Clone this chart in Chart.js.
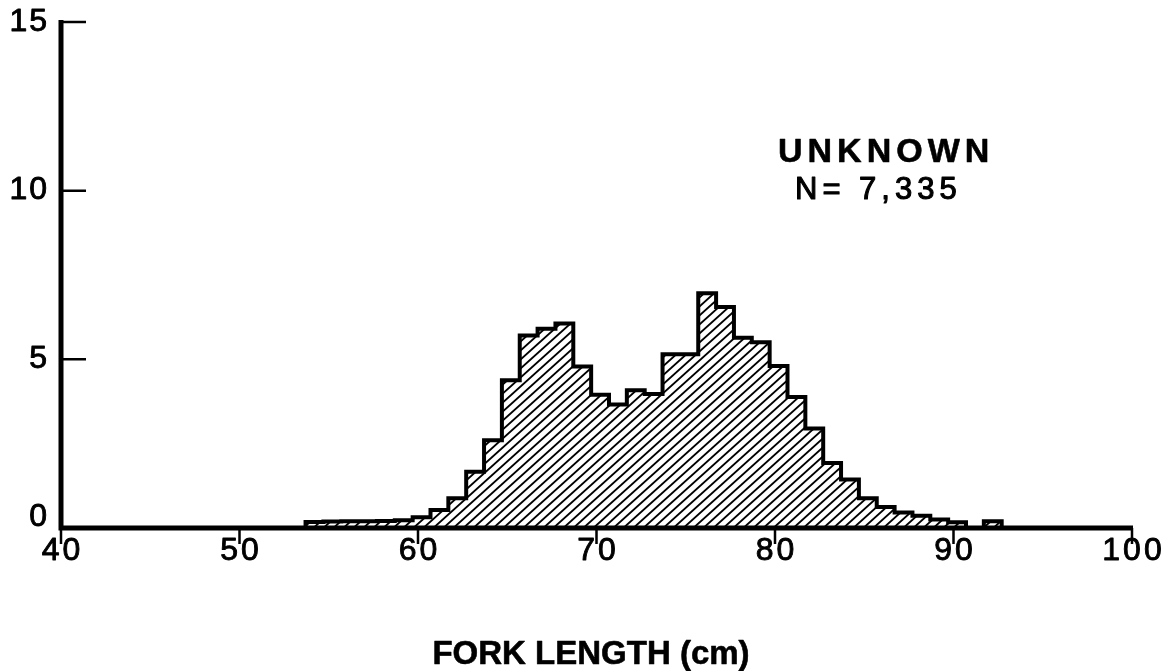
<!DOCTYPE html>
<html>
<head>
<meta charset="utf-8">
<script src="https://cdn.jsdelivr.net/npm/chart.js@4.4.1/dist/chart.umd.min.js"></script>
<style>
  html, body { margin: 0; padding: 0; background: #fff; }
  #wrap { width: 1175px; height: 671px; position: relative; }
</style>
</head>
<body>
<div id="wrap"><canvas id="c" width="1175" height="671"></canvas></div>
<script>
// Fork length bins (cm) and percentage of fish in each bin
const forkLength = [54, 55, 56, 57, 58, 59, 60, 61, 62, 63, 64, 65, 66, 67, 68, 69, 70, 71, 72, 73,
                    74, 75, 76, 77, 78, 79, 80, 81, 82, 83, 84, 85, 86, 87, 88, 89, 90, 91, 92];
const percent = [0.18, 0.19, 0.20, 0.20, 0.21, 0.23, 0.32, 0.53, 0.88, 1.67, 2.60, 4.38, 5.71, 5.91, 6.06, 4.79, 3.95, 3.66, 4.08, 3.97,
                 5.15, 5.15, 6.96, 6.55, 5.64, 5.51, 4.80, 3.88, 2.95, 1.93, 1.44, 0.88, 0.62, 0.46, 0.36, 0.25, 0.17, 0.00, 0.20];
const xTicks = [40, 50, 60, 70, 80, 90, 100];
const yTicks = [0, 5, 10, 15];
const groupName = 'UNKNOWN';
const sampleLabel = 'N= 7,335';
const axisTitle = 'FORK LENGTH (cm)';

// each bin is drawn one centimetre wide, starting this far from its nominal length
const BIN_START = -0.3;

// histogram outline: rise at each bin's left edge, run across it, close down to zero at the end
const outline = [{ x: forkLength[0] + BIN_START, y: 0 }];
forkLength.forEach((len, i) => outline.push({ x: len + BIN_START + 1, y: percent[i] }));
outline.push({ x: forkLength[forkLength.length - 1] + BIN_START + 1, y: 0 });

const canvas = document.getElementById('c');
const ctx0 = canvas.getContext('2d');

// diagonal hatching used to fill the histogram
function hatchPattern() {
  const W = 10, H = 9;
  const t = document.createElement('canvas');
  t.width = W; t.height = H;
  const g = t.getContext('2d');
  g.strokeStyle = '#000';
  g.lineWidth = 1.9;
  g.beginPath();
  for (let k = -1; k <= 1; k++) {
    g.moveTo(-W, 2 * H + k * H);
    g.lineTo(2 * W, -H + k * H);
  }
  g.stroke();
  return ctx0.createPattern(t, 'repeat');
}

const FONT = '"Liberation Sans", Arial, Helvetica, sans-serif';

// text with letter spacing; an optional outline stroke gives a slightly heavier weight
function spacedText(ctx, text, x, y, align, spacing, heavy) {
  ctx.letterSpacing = spacing + 'px';
  const w = ctx.measureText(text).width - spacing;
  let sx = x;
  if (align === 'center') sx = x - w / 2;
  else if (align === 'right') sx = x - w;
  ctx.textAlign = 'left';
  ctx.fillText(text, sx, y);
  if (heavy) {
    ctx.lineWidth = heavy;
    ctx.lineJoin = 'round';
    ctx.strokeText(text, sx, y);
  }
  ctx.letterSpacing = '0px';
}

const axesPlugin = {
  id: 'axesAndText',
  afterDatasetsDraw(chart) {
    const { ctx, scales: { x, y } } = chart;
    const left = x.getPixelForValue(xTicks[0]);
    const right = x.getPixelForValue(xTicks[xTicks.length - 1]);
    const base = y.getPixelForValue(0);
    const top = y.getPixelForValue(yTicks[yTicks.length - 1]);
    ctx.save();
    ctx.strokeStyle = '#000';
    ctx.fillStyle = '#000';
    ctx.lineCap = 'butt';

    // axis lines
    ctx.lineWidth = 5;
    ctx.beginPath();
    ctx.moveTo(left, top - 2);
    ctx.lineTo(left, base + 2.5);
    ctx.moveTo(left - 2.5, base);
    ctx.lineTo(right + 1, base);
    ctx.stroke();

    // y ticks point into the plot
    ctx.lineWidth = 2.5;
    ctx.beginPath();
    yTicks.slice(1).forEach(v => {
      const py = y.getPixelForValue(v);
      ctx.moveTo(left, py);
      ctx.lineTo(left + 25, py);
    });
    // x ticks hang below the axis
    xTicks.forEach(v => {
      const px = x.getPixelForValue(v);
      ctx.moveTo(px, base);
      ctx.lineTo(px, base + 16);
    });
    ctx.stroke();

    // tick labels
    ctx.font = '32px ' + FONT;
    ctx.textBaseline = 'middle';
    yTicks.forEach(v => {
      const py = y.getPixelForValue(v) - (v === 0 ? 11 : 0);
      spacedText(ctx, String(v), left - 14, py, 'right', 2, 0.9);
    });
    xTicks.forEach(v => {
      spacedText(ctx, String(v), x.getPixelForValue(v), base + 23, 'center', 3, 0.9);
    });

    // axis title
    ctx.font = 'bold 33px ' + FONT;
    spacedText(ctx, axisTitle, 591, 655, 'center', 0, 0.6);

    // group annotation
    ctx.font = 'bold 34px ' + FONT;
    spacedText(ctx, groupName, 778, 153, 'left', 5, 0.6);
    ctx.font = '31px ' + FONT;
    spacedText(ctx, sampleLabel, 795, 190, 'left', 5, 1.1);
    ctx.restore();
  }
};

new Chart(canvas, {
  type: 'line',
  data: {
    datasets: [{
      data: outline,
      stepped: 'after',
      borderColor: '#000',
      borderWidth: 4,
      borderJoinStyle: 'miter',
      backgroundColor: hatchPattern(),
      fill: 'origin',
      pointRadius: 0,
      tension: 0
    }]
  },
  options: {
    responsive: false,
    animation: false,
    devicePixelRatio: 1,
    layout: { padding: { top: 22, right: 43, left: 0, bottom: 0 } },
    plugins: { legend: { display: false }, tooltip: { enabled: false }, title: { display: false } },
    scales: {
      x: {
        type: 'linear',
        min: xTicks[0],
        max: xTicks[xTicks.length - 1],
        grid: { display: false },
        border: { display: false },
        ticks: { display: false },
        afterFit(scale) { scale.height = 143; }
      },
      y: {
        min: yTicks[0],
        max: yTicks[yTicks.length - 1],
        grid: { display: false },
        border: { display: false },
        ticks: { display: false },
        afterFit(scale) { scale.width = 61; }
      }
    }
  },
  plugins: [axesPlugin]
});
</script>
</body>
</html>
